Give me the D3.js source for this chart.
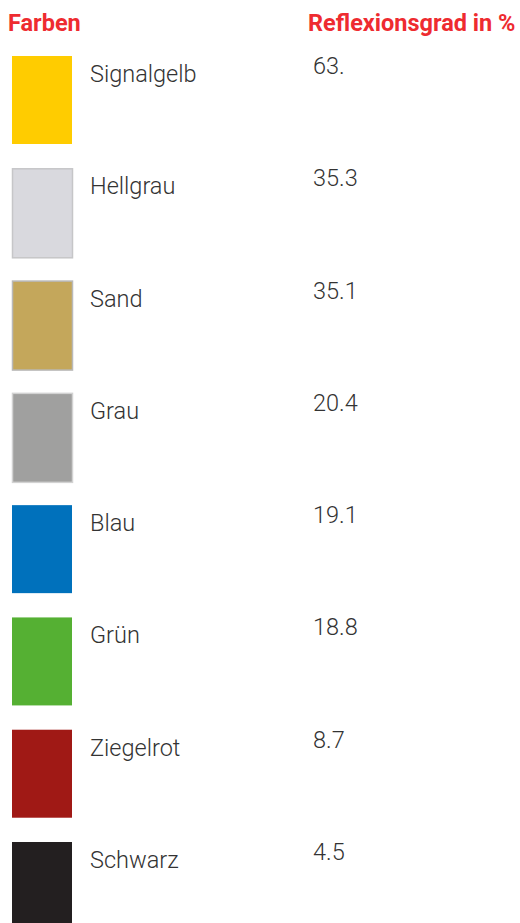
<!DOCTYPE html>
<html>
<head>
<meta charset="utf-8">
<script src="https://cdn.jsdelivr.net/npm/d3@7"></script>
<style>
  html, body { margin: 0; padding: 0; background: #fff; }
  svg { display: block; font-family: Roboto, sans-serif; }
</style>
</head>
<body>
<svg id="chart" width="520" height="923"></svg>
<script>
  const colorNames = ["Signalgelb", "Hellgrau", "Sand", "Grau", "Blau", "Grün", "Ziegelrot", "Schwarz"];
  const reflectance = [63, 35.3, 35.1, 20.4, 19.1, 18.8, 8.7, 4.5];
  const valueLabels = ["63.", "35.3", "35.1", "20.4", "19.1", "18.8", "8.7", "4.5"];
  const swatchColors = ["#ffcc00", "#d9d9de", "#c4a75b", "#a0a09f", "#0071bc", "#55b033", "#a01915", "#231f20"];
  const swatchBorders = ["none", "#c6c6c8", "#b9b9b9", "#d2d2d2", "none", "none", "none", "none"];
  const headers = ["Farben", "Reflexionsgrad in %"];

  const svg = d3.select("#chart");

  // rows are placed by a point scale, top of each swatch
  const y = d3.scalePoint()
    .domain(colorNames)
    .range([56, 842]);

  const x = d3.scaleOrdinal()
    .domain(["swatch", "name", "value"])
    .range([12, 90, 313]);

  // header
  svg.selectAll("text.header")
    .data(headers)
    .enter()
    .append("text")
    .attr("class", "header")
    .attr("x", (d, i) => i === 0 ? 8 : 308)
    .attr("y", 31)
    .attr("fill", "#ee2b30")
    .attr("font-size", 23.5)
    .attr("font-weight", 700)
    .text(d => d);

  const rows = svg.selectAll("g.row")
    .data(colorNames.map((name, i) => ({
      name,
      value: reflectance[i],
      label: valueLabels[i],
      color: swatchColors[i],
      border: swatchBorders[i]
    })))
    .enter()
    .append("g")
    .attr("class", "row")
    .attr("transform", d => `translate(0,${y(d.name)})`);

  rows.append("rect")
    .attr("x", d => x("swatch") + (d.border === "none" ? 0 : 0.5))
    .attr("y", d => d.border === "none" ? 0 : 0.5)
    .attr("width", 60)
    .attr("height", d => d.border === "none" ? 88 : 89)
    .attr("fill", d => d.color)
    .attr("stroke", d => d.border)
    .attr("stroke-width", 1.5);

  rows.append("text")
    .attr("x", x("name"))
    .attr("y", 26)
    .attr("fill", "#333")
    .attr("font-size", 23.5)
    .attr("font-weight", 300)
    .text(d => d.name);

  rows.append("text")
    .attr("x", x("value"))
    .attr("y", 18)
    .attr("fill", "#333")
    .attr("font-size", 23.5)
    .attr("font-weight", 300)
    .text(d => d.label);
</script>
</body>
</html>
